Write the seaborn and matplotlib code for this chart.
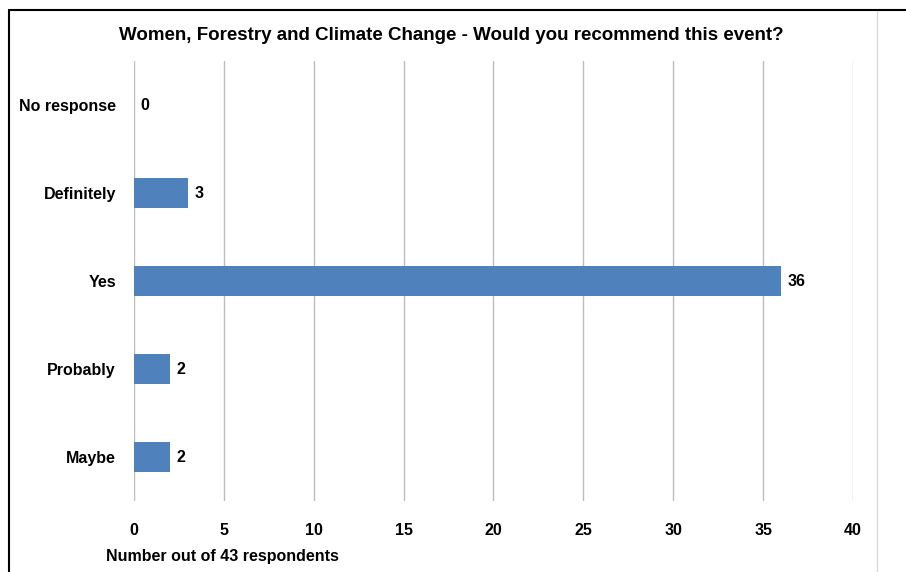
import matplotlib
matplotlib.use("Agg")
import matplotlib.pyplot as plt
from matplotlib.lines import Line2D
import seaborn as sns
import pandas as pd

categories = ["No response", "Definitely", "Yes", "Probably", "Maybe"]
values = [0, 3, 36, 2, 2]
x_ticks = [0, 5, 10, 15, 20, 25, 30, 35, 40]
title = "Women, Forestry and Climate Change - Would you recommend this event?"
xlabel = "Number out of 43 respondents"

sns.set_theme(style="white")
plt.rcParams["font.family"] = ["Liberation Sans", "DejaVu Sans"]
plt.rcParams["text.color"] = "black"
plt.rcParams["xtick.color"] = "black"
plt.rcParams["ytick.color"] = "black"

df = pd.DataFrame({"category": categories, "value": values})

W, H = 906, 572
fig = plt.figure(figsize=(W / 100, H / 100), dpi=100)
ax = fig.add_axes([134 / W, 1 - 501 / H, (853 - 134) / W, (501 - 61) / H])

sns.barplot(data=df, x="value", y="category", orient="h", color="#4F81BD",
            saturation=1, width=0.35, ax=ax, zorder=3, linewidth=0)

ax.set_xlim(0, 40)
ax.set_ylim(4.5, -0.5)
ax.set_xticks(x_ticks)
ax.set_xticklabels([str(t) for t in x_ticks], fontsize=11.5, fontweight="bold",
                   color="black")
ax.tick_params(axis="x", length=0, pad=16, colors="black")
ax.tick_params(axis="y", length=0, pad=13, colors="black")
for lab in ax.get_yticklabels():
    lab.set_fontsize(11.5)
    lab.set_fontweight("bold")
    lab.set_color("black")
ax.set_xlabel("")
ax.set_ylabel("")
for s in ax.spines.values():
    s.set_visible(False)
ax.xaxis.grid(True, color="#BDBDBD", linewidth=1.0, zorder=0)
ax.yaxis.grid(False)
ax.set_axisbelow(True)

for i, v in enumerate(values):
    ax.text(v + 0.35, i, str(v), va="center", ha="left", fontsize=11.5,
            fontweight="bold", color="black")

fig.text(451 / W, 1 - 35 / H, title, ha="center", va="center",
         fontsize=13.5, fontweight="bold", color="black")
fig.text(106 / W, 1 - 557 / H, xlabel, ha="left", va="center",
         fontsize=11.5, fontweight="bold", color="black")

# frame lines
fig.add_artist(Line2D([9 / W, 9 / W], [0, 1 - 10 / H], color="black", linewidth=1.5,
                      transform=fig.transFigure))
fig.add_artist(Line2D([9 / W, 1], [1 - 10 / H, 1 - 10 / H], color="black", linewidth=1.5,
                      transform=fig.transFigure))
fig.add_artist(Line2D([877 / W, 877 / W], [0, 1 - 11 / H], color="#D9D9D9", linewidth=1.0,
                      transform=fig.transFigure))

fig.savefig("out.png", dpi=100, facecolor="white")
